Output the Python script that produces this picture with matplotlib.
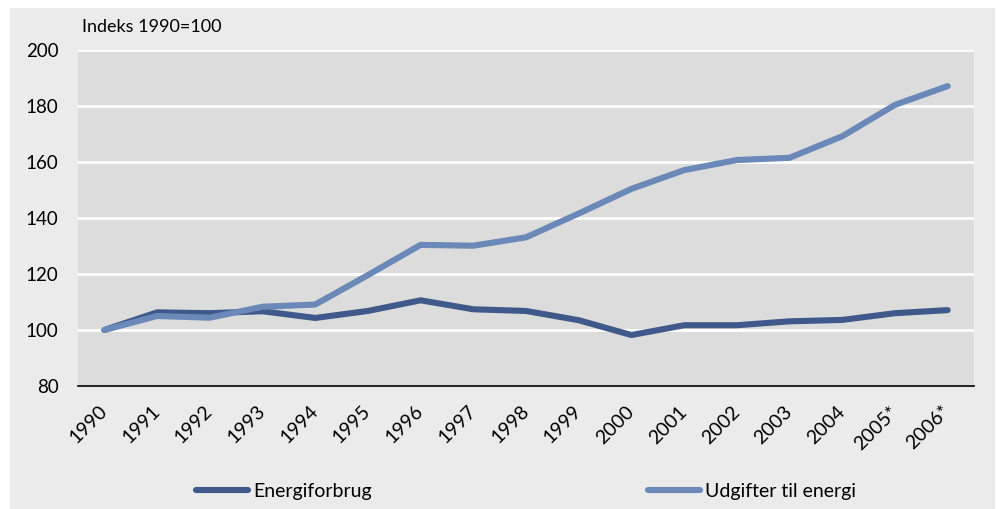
import matplotlib.pyplot as plt
import matplotlib.transforms as mtransforms
from matplotlib.patches import Rectangle

years = ["1990", "1991", "1992", "1993", "1994", "1995", "1996", "1997", "1998",
         "1999", "2000", "2001", "2002", "2003", "2004", "2005*", "2006*"]
energiforbrug = [100, 106.3, 106.0, 106.7, 104.3, 106.8, 110.6, 107.4, 106.8,
                 103.5, 98.2, 101.7, 101.7, 103.1, 103.6, 106.0, 107.1]
udgifter = [100, 105.0, 104.4, 108.3, 109.1, 119.6, 130.4, 130.1, 133.1,
            141.6, 150.4, 157.1, 160.7, 161.5, 169.2, 180.4, 187.1]

plt.rcParams['font.family'] = ['Lato', 'DejaVu Sans']

fig = plt.figure(figsize=(9.98, 5.09), dpi=100)
W, H = 998, 509
# grå baggrund
fig.patches.append(Rectangle((10 / W, 0), 985 / W, (H - 8) / H,
                             transform=fig.transFigure, facecolor="#ebebeb",
                             edgecolor="none", zorder=-10))

ax = fig.add_axes([78 / W, 1 - 386 / H, (974 - 78) / W, (386 - 50) / H])
ax.set_facecolor("#dcdcdc")

x = list(range(len(years)))
ax.plot(x, energiforbrug, color="#3f5a8a", lw=4.4, solid_capstyle="round",
        solid_joinstyle="round", label="Energiforbrug", zorder=3)
ax.plot(x, udgifter, color="#6a88b8", lw=4.4, solid_capstyle="round",
        solid_joinstyle="round", label="Udgifter til energi", zorder=4)

ax.set_xlim(-0.5, len(years) - 0.5)
ax.set_ylim(80, 200)
ax.set_yticks(range(80, 201, 20))
ax.set_xticks(x)
ax.set_xticklabels(years, rotation=45, ha="right", rotation_mode="anchor",
                   fontsize=14)
ax.tick_params(axis="y", labelsize=13.5, length=0, pad=14)
ax.tick_params(axis="x", length=0, pad=12)
# flyt årstal lidt til venstre
shift = mtransforms.ScaledTranslation(-6 / 100, 0, fig.dpi_scale_trans)
for lab in ax.get_xticklabels():
    lab.set_transform(lab.get_transform() + shift)
ax.grid(axis="y", color="white", lw=2)
ax.set_axisbelow(True)
for s in ["top", "right", "left"]:
    ax.spines[s].set_visible(False)
ax.spines["bottom"].set_color("black")
ax.spines["bottom"].set_linewidth(1.2)
ax.spines["bottom"].set_zorder(5)

fig.text(82 / W, 1 - 27 / H, "Indeks 1990=100", fontsize=13, va="center")

h, l = ax.get_legend_handles_labels()
fig.legend(h, l, loc="center", bbox_to_anchor=(526 / W, 1 - 491 / H), ncol=2,
           frameon=False, fontsize=14, handlelength=2.7, handletextpad=0.25,
           columnspacing=14.2)

plt.savefig("out.png", dpi=100)
plt.close()
